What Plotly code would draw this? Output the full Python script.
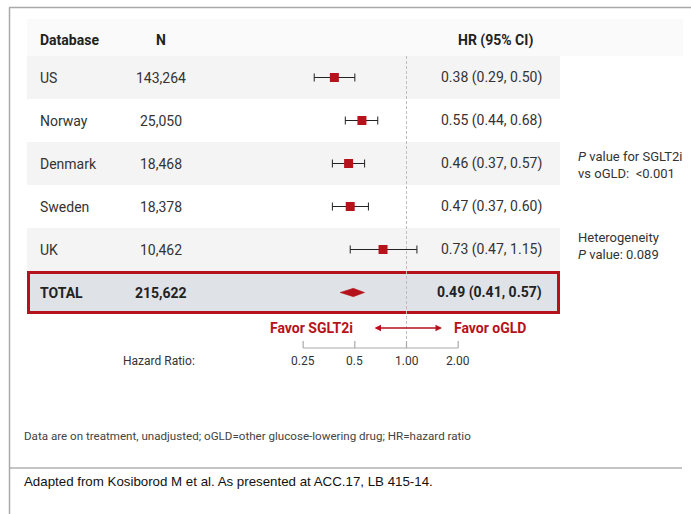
import numpy as np
import plotly.graph_objects as go

# ---- data ----
databases = ["US", "Norway", "Denmark", "Sweden", "UK"]
n_patients = ["143,264", "25,050", "18,468", "18,378", "10,462"]
hr = [0.38, 0.55, 0.46, 0.47, 0.73]
ci_low = [0.29, 0.44, 0.37, 0.37, 0.47]
ci_high = [0.50, 0.68, 0.57, 0.60, 1.15]

total_label = "TOTAL"
total_n = "215,622"
total_hr = 0.49
total_low = 0.41
total_high = 0.57

tick_values = [0.25, 0.5, 1.0, 2.0]
tick_labels = ["0.25", "0.5", "1.00", "2.00"]

# ---- styling ----
W, H = 691, 514
RED = "#b5121b"
TXT = "#333333"
FONT = "Roboto"

def px(x):
    return x / W

def py(y):
    return 1 - y / H

# row index -> vertical position (rows 1..5, total row 6)
row_y = list(range(1, len(databases) + 1))
total_y = len(databases) + 1
ROW_PX, ROW0_PX = 43.0, 77.5
y_top = 1 - ROW0_PX / ROW_PX
y_bot = 1 + (H - ROW0_PX) / ROW_PX

def ry(pixel):
    return 1 + (pixel - ROW0_PX) / ROW_PX

# log2 axis: 1.0 sits at x=406.5 px, one doubling = 51.67 px
X1, K = 406.5, 51.67
x_lo = np.log10(2 ** (-X1 / K))
x_hi = np.log10(2 ** ((W - X1) / K))

def fmt(h, l, u):
    return f"{h:.2f} ({l:.2f}, {u:.2f})"

fig = go.Figure()

shapes = []
# header band
shapes.append(dict(type="rect", xref="paper", yref="y", x0=px(27), x1=px(683),
                   y0=ry(19), y1=0.5, fillcolor="#fafafa", line_width=0, layer="below"))
# striped rows
for i, yv in enumerate(row_y):
    if i % 2 == 0:
        shapes.append(dict(type="rect", xref="paper", yref="y", x0=px(27), x1=px(560),
                           y0=yv - 0.5, y1=yv + 0.5, fillcolor="#f4f4f4",
                           line_width=0, layer="below"))
# total row box
shapes.append(dict(type="rect", xref="paper", yref="y", x0=px(28.5), x1=px(558.5),
                   y0=ry(272.5), y1=ry(312.5), fillcolor="#dfe3e8",
                   line=dict(color=RED, width=3), layer="below"))
# outer frame
shapes.append(dict(type="line", xref="paper", yref="paper", x0=px(9.5), x1=px(9.5),
                   y0=py(7.5), y1=0, line=dict(color="#aaaaaa", width=1.5)))
shapes.append(dict(type="line", xref="paper", yref="paper", x0=px(9), x1=1,
                   y0=py(7.5), y1=py(7.5), line=dict(color="#aaaaaa", width=1.5)))
# footer rule
shapes.append(dict(type="line", xref="paper", yref="paper", x0=px(10), x1=px(682),
                   y0=py(468), y1=py(468), line=dict(color="#8a8a8a", width=1)))

# reference line at HR = 1
fig.add_trace(go.Scatter(x=[1.0, 1.0], y=[0.5, ry(348)], mode="lines",
                         line=dict(color="#bdbdbd", width=1, dash="3px,2px"),
                         hoverinfo="skip"))

# axis bracket with ticks
bx, by = [tick_values[0], tick_values[-1]], [ry(348), ry(348)]
for t in tick_values:
    bx += [None, t, t]
    by += [None, ry(341), ry(348)]
fig.add_trace(go.Scatter(x=bx, y=by, mode="lines",
                         line=dict(color="#aaaaaa", width=1.2), hoverinfo="skip"))

# study estimates with 95% CI
fig.add_trace(go.Scatter(
    x=hr, y=row_y, mode="markers",
    marker=dict(symbol="square", size=9, color=RED, line_width=0),
    error_x=dict(type="data", symmetric=False,
                 array=[u - h for u, h in zip(ci_high, hr)],
                 arrayminus=[h - l for h, l in zip(hr, ci_low)],
                 color="#222222", thickness=1, width=4),
    hoverinfo="skip"))

# pooled estimate diamond
dh = 4.2 / ROW_PX
fig.add_trace(go.Scatter(
    x=[total_low, total_hr, total_high, total_hr, total_low],
    y=[total_y, total_y - dh, total_y, total_y + dh, total_y],
    mode="lines", fill="toself", fillcolor=RED, line=dict(color=RED, width=0.5),
    hoverinfo="skip"))

ann = []

def text(x, y, s, size=14, color=TXT, xanchor="left", yref="y", bold=False, family=FONT):
    if bold:
        s = f"<b>{s}</b>"
    ann.append(dict(x=x, y=y, xref="paper", yref=yref, text=s, showarrow=False,
                    xanchor=xanchor, yanchor="middle", align=xanchor,
                    font=dict(family=family, size=size, color=color)))

# header
hdr_y = ry(40)
text(px(38), hdr_y, "Database", bold=True, color="#222222")
text(px(161), hdr_y, "N", bold=True, color="#222222", xanchor="center")
text(px(495), hdr_y, "HR (95% CI)", bold=True, color="#222222", xanchor="center")

# rows
for name, n, h, l, u, yv in zip(databases, n_patients, hr, ci_low, ci_high, row_y):
    text(px(38), yv, name)
    text(px(161), yv, n, xanchor="center")
    text(px(544), yv, fmt(h, l, u), xanchor="right")

# total row
text(px(38), total_y, total_label, bold=True, color="#222222")
text(px(161), total_y, total_n, bold=True, color="#222222", xanchor="center")
text(px(544), total_y, fmt(total_hr, total_low, total_high), bold=True,
     color="#222222", xanchor="right")

# side notes
text(px(576), ry(164.5), "<i>P</i> value for SGLT2i<br>vs oGLD:&nbsp;&nbsp;&lt;0.001", size=13)
text(px(576), ry(246), "Heterogeneity<br><i>P</i> value: 0.089", size=13)

# favour labels and arrow
fav_y = ry(328)
text(px(355), fav_y, "Favor SGLT2i", bold=True, color=RED, xanchor="right")
text(px(452), fav_y, "Favor oGLD", bold=True, color=RED)
ann.append(dict(x=px(442), y=fav_y, xref="paper", yref="y", text="", showarrow=True,
                ax=-69, ay=0, arrowside="end+start", arrowhead=2, startarrowhead=2,
                arrowsize=1, startarrowsize=1, arrowwidth=1.3, arrowcolor=RED))

# tick labels
tl_y = ry(361)
text(px(121), tl_y, "Hazard Ratio:", size=12)
for t, lab in zip(tick_values, tick_labels):
    ann.append(dict(x=np.log10(t), y=tl_y, xref="x", yref="y", text=lab, showarrow=False,
                    xanchor="center", yanchor="middle",
                    font=dict(family=FONT, size=12, color=TXT)))

# footnotes
text(px(22), py(436), "Data are on treatment, unadjusted; oGLD=other glucose-lowering drug; HR=hazard ratio",
     size=11.6, color="#444444", yref="paper")
text(px(22), py(481), "Adapted from Kosiborod M et al. As presented at ACC.17, LB 415-14.",
     size=13.3, color="#111111", yref="paper", family="Liberation Sans")

fig.update_layout(
    width=W, height=H, margin=dict(l=0, r=0, t=0, b=0),
    paper_bgcolor="white", plot_bgcolor="white", showlegend=False,
    shapes=shapes, annotations=ann,
    xaxis=dict(type="log", range=[x_lo, x_hi], visible=False, fixedrange=True, domain=[0, 1]),
    yaxis=dict(range=[y_bot, y_top], visible=False, fixedrange=True, domain=[0, 1]),
)

fig.write_html("out.html")
